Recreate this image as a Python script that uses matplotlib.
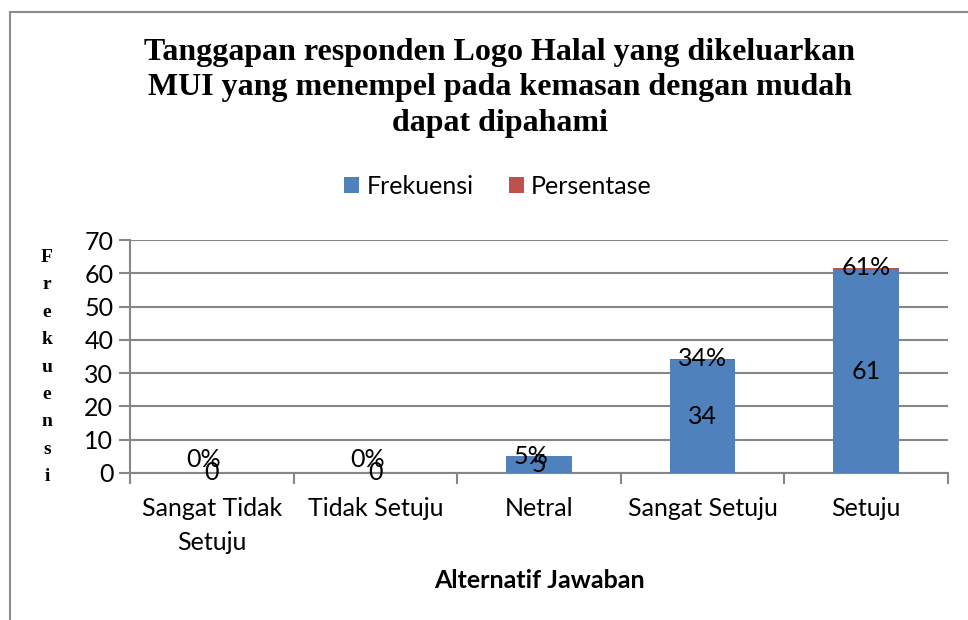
import numpy as np
import matplotlib.pyplot as plt
from matplotlib.patches import Rectangle

# data
categories = ['Sangat Tidak\nSetuju', 'Tidak Setuju', 'Netral', 'Sangat Setuju', 'Setuju']
frekuensi = [0, 0, 5, 34, 61]
persentase = [0.00, 0.00, 0.05, 0.34, 0.61]

BLUE = '#4F81BD'
RED = '#C0504D'
GRID = '#868686'
SANS = ['Lato', 'DejaVu Sans']
SERIF = ['Liberation Serif', 'DejaVu Serif']
FS = 18

fig = plt.figure(figsize=(9.68, 6.2), dpi=100)
ax = fig.add_axes([0.1343, 0.2371, 0.845, 0.3758])

# chart frame (cut off at right and bottom like the original)
fig.patches.append(Rectangle((10 / 968, -0.1), 1.2, 1 - 12 / 620 + 0.1,
                             transform=fig.transFigure, fill=False,
                             edgecolor='#8C8C8C', linewidth=1.5))

x = np.arange(len(categories))
ax.bar(x, frekuensi, width=0.4, color=BLUE, label='Frekuensi', zorder=3)
ax.bar(x, persentase, width=0.4, bottom=frekuensi, color=RED, label='Persentase', zorder=3)

# data labels
for i in range(len(categories)):
    ax.text(x[i], frekuensi[i] / 2, str(frekuensi[i]), ha='center', va='center',
            fontsize=FS, family=SANS, zorder=4)
    top = frekuensi[i] + persentase[i]
    ax.text(x[i] - (0.05 if frekuensi[i] < 10 else 0), max(top, 4), '%d%%' % round(persentase[i] * 100),
            ha='center', va='center', fontsize=FS, family=SANS, zorder=4)

ax.set_xlim(-0.5, len(categories) - 0.5)
ax.set_ylim(0, 70)
ax.set_yticks(np.arange(0, 71, 10))
ax.yaxis.grid(True, color=GRID, linewidth=1.5, zorder=0)
ax.set_xticks(x)
ax.set_xticklabels(categories, fontsize=FS, family=SANS, linespacing=1.6)
ax.set_xticks(np.arange(-0.5, len(categories), 1), minor=True)
ax.tick_params(axis='x', which='major', length=0, pad=17)
ax.tick_params(axis='x', which='minor', length=8, width=1.5, color=GRID)
ax.tick_params(axis='y', length=8, width=1.5, color=GRID, labelsize=FS, pad=4)
for lab in ax.get_yticklabels():
    lab.set_family(SANS)
for s in ['top', 'right']:
    ax.spines[s].set_visible(False)
for s in ['left', 'bottom']:
    ax.spines[s].set_color(GRID)
    ax.spines[s].set_linewidth(1.5)

ax.set_xlabel('Alternatif Jawaban', fontsize=FS, fontweight='bold', family=SANS, labelpad=11)

fig.text(47 / 968, 1 - 367 / 620, '\n'.join('Frekuensi'), ha='center', va='center',
         fontsize=14, fontweight='bold', family=SERIF, linespacing=1.8)

fig.text(500 / 968, 1 - 88 / 620,
         'Tanggapan responden Logo Halal yang dikeluarkan\nMUI yang menempel pada kemasan dengan mudah\ndapat dipahami',
         ha='center', va='center', fontsize=23, fontweight='bold', family=SERIF, linespacing=1.3)

fig.legend(loc='center', bbox_to_anchor=(498 / 968, 1 - 186 / 620), ncol=2, frameon=False,
           prop={'family': SANS, 'size': FS}, handlelength=0.6, handleheight=0.6,
           handletextpad=0.3, columnspacing=1.4)

fig.savefig('out.png', dpi=100)
